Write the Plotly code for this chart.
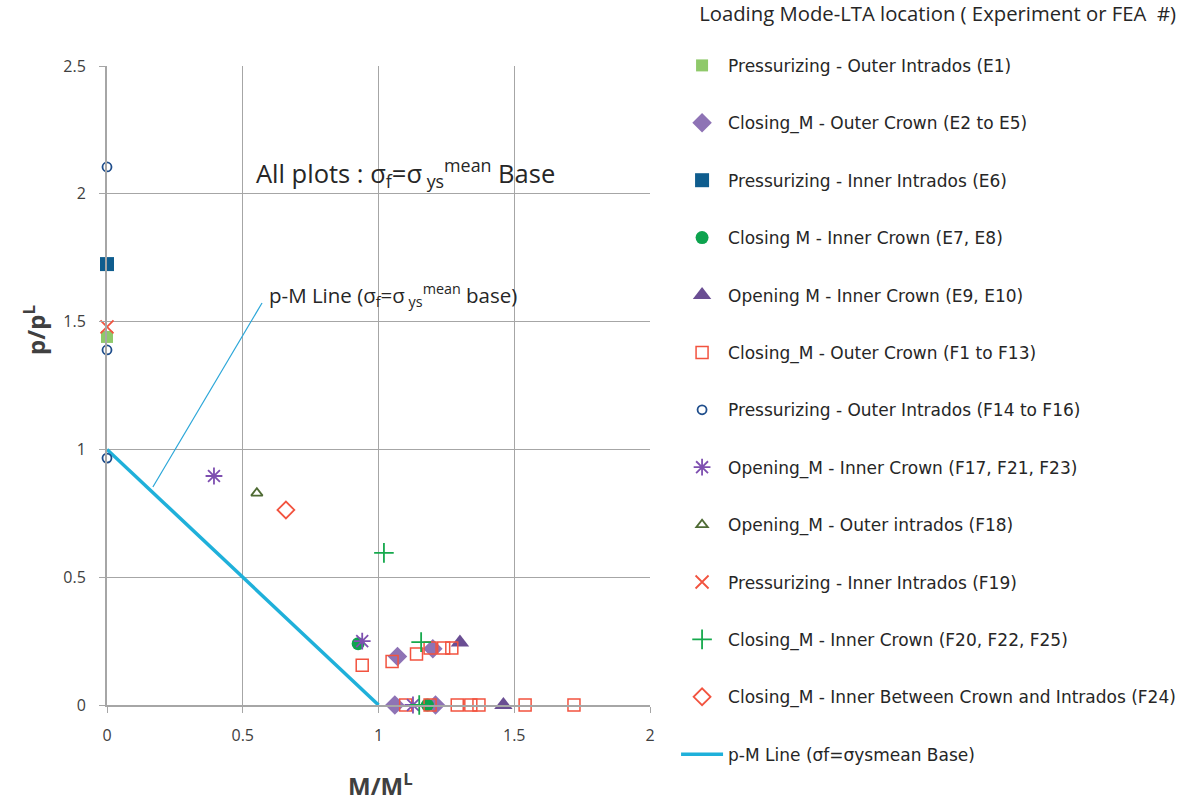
import plotly.graph_objects as go

# Normalised moment (M/M^L) and pressure (p/p^L) for each loading mode / LTA location
e1_x = [0.0]
e1_y = [1.44]

e2_e5_x = [1.07, 1.20, 1.06, 1.21]
e2_e5_y = [0.19, 0.22, 0.0, 0.0]

e6_x = [0.0]
e6_y = [1.725]

e7_e8_x = [0.925, 1.18]
e7_e8_y = [0.24, 0.0]

e9_e10_x = [1.30, 1.46]
e9_e10_y = [0.245, 0.0]

f1_f13_x = [0.94, 1.05, 1.14, 1.19, 1.24, 1.27, 1.10, 1.19, 1.29, 1.34, 1.37, 1.54, 1.72]
f1_f13_y = [0.156, 0.17, 0.20, 0.223, 0.223, 0.223, 0.0, 0.0, 0.0, 0.0, 0.0, 0.0, 0.0]

f14_f16_x = [0.0, 0.0, 0.0]
f14_f16_y = [2.105, 1.389, 0.966]

f17_x = [0.394, 0.94, 1.127]
f17_y = [0.896, 0.25, 0.0]

f18_x = [0.552]
f18_y = [0.829]

f19_x = [0.0]
f19_y = [1.479]

f20_x = [1.02, 1.157, 1.15]
f20_y = [0.595, 0.246, 0.0]

f24_x = [0.659]
f24_y = [0.763]

pm_line_x = [0.0, 1.0]
pm_line_y = [1.0, 0.0]

x_ticks = [0, 0.5, 1, 1.5, 2]
x_tick_text = ["0", "0.5", "1", "1.5", "2"]
y_ticks = [0, 0.5, 1, 1.5, 2, 2.5]
y_tick_text = ["0", "0.5", "1", "1.5", "2", "2.5"]

RED = "#F2533F"

series = [
    ("Pressurizing - Outer Intrados (E1)", e1_x, e1_y,
     dict(symbol="square", size=12, color="#8FC96A")),
    ("Closing_M - Outer Crown (E2 to E5)", e2_e5_x, e2_e5_y,
     dict(symbol="diamond", size=15, color="#8E73B5")),
    ("Pressurizing - Inner Intrados (E6)", e6_x, e6_y,
     dict(symbol="square", size=14, color="#0F5D8E")),
    ("Closing M - Inner Crown (E7, E8)", e7_e8_x, e7_e8_y,
     dict(symbol="circle", size=13, color="#0DA34E")),
    ("Opening M - Inner Crown (E9, E10)", e9_e10_x, e9_e10_y,
     dict(symbol="triangle-up", size=16, color="#6A4E93")),
    ("Closing_M - Outer Crown (F1 to F13)", f1_f13_x, f1_f13_y,
     dict(symbol="square-open", size=12, color=RED, line=dict(width=1.5, color=RED))),
    ("Pressurizing - Outer Intrados (F14 to F16)", f14_f16_x, f14_f16_y,
     dict(symbol="circle-open", size=9, color="#1F4E8C", line=dict(width=1.8, color="#1F4E8C"))),
    ("Opening_M - Inner Crown (F17, F21, F23)", f17_x, f17_y,
     dict(symbol="asterisk", size=14, color="#7E4FB0", line=dict(width=1.8, color="#7E4FB0"))),
    ("Opening_M - Outer intrados (F18)", f18_x, f18_y,
     dict(symbol="triangle-up-open", size=10, color="#4F6B34", line=dict(width=1.8, color="#4F6B34"))),
    ("Pressurizing - Inner Intrados (F19)", f19_x, f19_y,
     dict(symbol="x-thin", size=13, color=RED, line=dict(width=1.8, color=RED))),
    ("Closing_M - Inner Crown (F20, F22, F25)", f20_x, f20_y,
     dict(symbol="cross-thin", size=14, color="#16A94D", line=dict(width=1.8, color="#16A94D"))),
    ("Closing_M - Inner Between Crown and Intrados (F24)", f24_x, f24_y,
     dict(symbol="diamond-open", size=13, color=RED, line=dict(width=1.8, color=RED))),
]

fig = go.Figure()

# p-M limit line drawn underneath the data markers
fig.add_trace(go.Scatter(
    x=pm_line_x, y=pm_line_y, mode="lines",
    name="p-M Line (σf=σysmean Base)",
    line=dict(color="#1FB0DA", width=3.5),
    legendgroup="line", legendrank=2000, cliponaxis=False,
))

for i, (name, xs, ys, marker) in enumerate(series):
    fig.add_trace(go.Scatter(
        x=xs, y=ys, mode="markers", name=name, marker=marker,
        legendgroup=f"g{i}", legendrank=i + 1, cliponaxis=False,
    ))

FONT = "Open Sans"
GRID = "#A6A6A6"
NBSP = "\u00a0"

fig.update_layout(
    width=1187, height=802,
    margin=dict(l=107, r=537, t=66, b=97, autoexpand=False),
    paper_bgcolor="white", plot_bgcolor="white",
    font=dict(family=FONT, color="#404040"),
    showlegend=True,
    legend=dict(
        x=1.048, xanchor="left", y=1.111, yanchor="top",
        title=dict(text=NBSP * 4 + "Loading Mode-LTA location ( Experiment or FEA  #)<br> ",
                   font=dict(size=20.3, color="#262626", family=FONT), side="top"),
        font=dict(size=17, color="#262626", family="DejaVu Sans"),
        tracegroupgap=32.3,
        itemwidth=42,
        maxheight=820,
    ),
    xaxis=dict(
        range=[0, 2], tickvals=x_ticks, ticktext=x_tick_text,
        showgrid=True, gridcolor=GRID, gridwidth=1.3,
        zeroline=False, showline=True, linecolor=GRID, linewidth=2,
        ticks="outside", ticklen=6, tickcolor=GRID,
        ticklabelstandoff=9,
        tickfont=dict(size=16, color="#404040"),
    ),
    yaxis=dict(
        range=[0, 2.5], tickvals=y_ticks, ticktext=y_tick_text,
        showgrid=True, gridcolor=GRID, gridwidth=1.3,
        zeroline=False, showline=True, linecolor=GRID, linewidth=2,
        ticks="outside", ticklen=6, tickcolor=GRID,
        ticklabelstandoff=10,
        tickfont=dict(size=16, color="#404040"),
    ),
)

# Axis titles
fig.add_annotation(
    x=0.503, y=-0.125, xref="paper", yref="paper", showarrow=False,
    xanchor="center", yanchor="middle",
    text="<b>M/M<sup>L</sup></b>", font=dict(size=24, color="#404040", family=FONT),
)
fig.add_annotation(
    x=-0.1326, y=0.587, xref="paper", yref="paper", showarrow=False, textangle=-90,
    xanchor="center", yanchor="middle",
    text="<b>p/p<sup>L</sup></b>", font=dict(size=24, color="#404040", family=FONT),
)

# Chart-wide note on the yield-strength basis
fig.add_annotation(
    x=1.10, y=2.08, xref="x", yref="y", showarrow=False,
    text="All plots : σ<sub>f</sub>=σ<sub> ys</sub><sup>mean</sup> Base",
    font=dict(size=25.5, color="#262626", family=FONT),
)

# Label for the p-M line with its leader
fig.add_annotation(
    x=0.589, y=1.605, xref="x", yref="y", showarrow=False, xanchor="left",
    text="p-M Line (σ<sub>f</sub>=σ<sub> ys</sub><sup>mean</sup> base)",
    font=dict(size=20.5, color="#262626", family=FONT),
)
fig.add_shape(
    type="line", xref="x", yref="y", x0=0.571, y0=1.573, x1=0.169, y1=0.853,
    line=dict(color="#2AA6D8", width=1.2),
)

fig.write_html("out.html")
